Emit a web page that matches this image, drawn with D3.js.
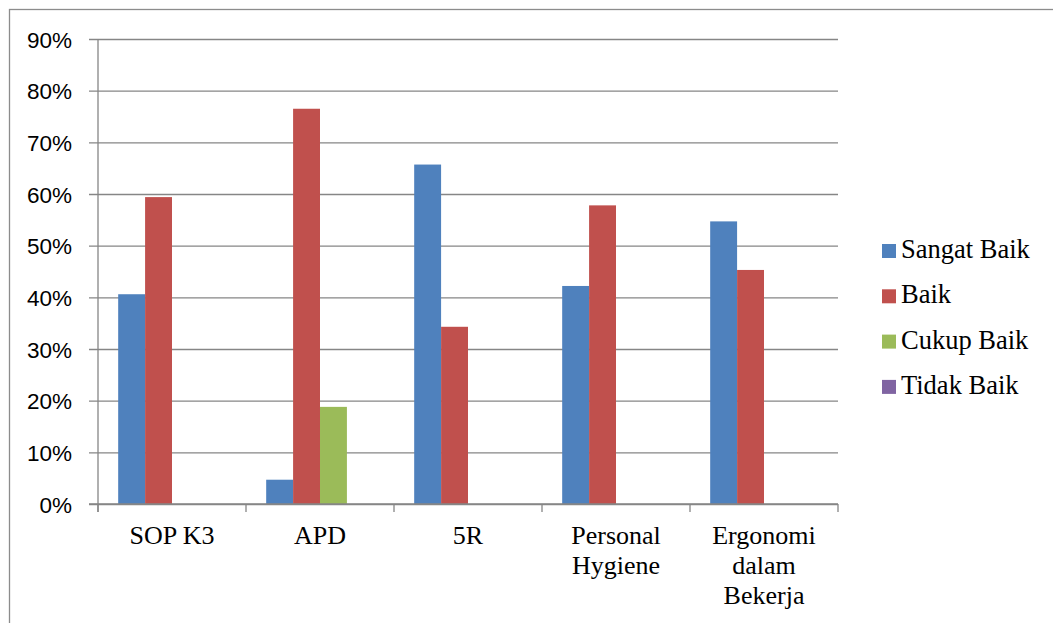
<!DOCTYPE html>
<html>
<head>
<meta charset="utf-8">
<script src="https://cdn.jsdelivr.net/npm/d3@7"></script>
<style>
  html, body { margin: 0; padding: 0; background: #fff; }
  svg { display: block; }
</style>
</head>
<body>
<svg id="chart" width="1053" height="623"></svg>
<script>
// ---- data ----
const categories = [["SOP K3"], ["APD"], ["5R"], ["Personal", "Hygiene"], ["Ergonomi", "dalam", "Bekerja"]];
const seriesNames = ["Sangat Baik", "Baik", "Cukup Baik", "Tidak Baik"];
const sangatBaik = [40.6, 4.7, 65.7, 42.2, 54.7];
const baik       = [59.4, 76.5, 34.3, 57.8, 45.3];
const cukupBaik  = [0, 18.8, 0, 0, 0];
const tidakBaik  = [0, 0, 0, 0, 0];
const yTicks = [0, 10, 20, 30, 40, 50, 60, 70, 80, 90];
const colors = ["#4F81BD", "#C0504D", "#9BBB59", "#8064A2"];

const seriesValues = [sangatBaik, baik, cukupBaik, tidakBaik];
const catKeys = categories.map(c => c.join(" "));

// ---- layout ----
const svg = d3.select("#chart");
const pLeft = 98, pRight = 838, pTop = 39, pBottom = 504;
const gridColor = "#868686";

// outer border
svg.append("rect")
  .attr("x", 9.5).attr("y", 9.5)
  .attr("width", 1100).attr("height", 700)
  .attr("fill", "none").attr("stroke", "#8c8c8c").attr("stroke-width", 1.3);

const x0 = d3.scaleBand().domain(catKeys).range([pLeft, pRight]).paddingInner(0).paddingOuter(0);
const bw = x0.bandwidth();
const gap = bw * 1.5 / 5.5;
const x1 = d3.scaleBand().domain(seriesNames).range([gap / 2, bw - gap / 2]).padding(0);
const y = d3.scaleLinear().domain([0, 90]).range([pBottom, pTop]);

// gridlines + y axis
const yAxis = d3.axisLeft(y)
  .tickValues(yTicks)
  .tickFormat(d => d + "%")
  .tickSize(-(pRight - pLeft))
  .tickSizeOuter(0)
  .tickPadding(17);
const gy = svg.append("g").attr("transform", `translate(${pLeft},0)`).call(yAxis);
gy.select(".domain").remove();
gy.selectAll(".tick line")
  .attr("x1", -9).attr("x2", pRight - pLeft)
  .attr("stroke", gridColor).attr("stroke-width", 1.3);
gy.selectAll(".tick text")
  .attr("x", -26)
  .attr("font-family", "'Liberation Sans', Arial, sans-serif")
  .attr("font-size", 22.5).attr("fill", "#000")
  .attr("dy", "0.36em");

// bars
const groups = svg.append("g").selectAll("g")
  .data(catKeys)
  .join("g")
  .attr("transform", d => `translate(${x0(d)},0)`);

groups.selectAll("rect")
  .data((d, i) => seriesNames.map((s, j) => ({ s, j, v: seriesValues[j][i] })))
  .join("rect")
  .attr("x", d => x1(d.s))
  .attr("width", x1.bandwidth())
  .attr("y", d => y(d.v))
  .attr("height", d => pBottom - y(d.v))
  .attr("fill", d => colors[d.j]);

// y axis line
svg.append("line")
  .attr("x1", pLeft).attr("x2", pLeft)
  .attr("y1", pTop).attr("y2", pBottom + 8)
  .attr("stroke", gridColor).attr("stroke-width", 1.3);

// x axis
const xAxis = d3.axisBottom(x0).tickSize(0).tickFormat(() => "");
const gx = svg.append("g").attr("transform", `translate(0,${pBottom})`).call(xAxis);
gx.select(".domain").attr("stroke", gridColor).attr("stroke-width", 1.3)
  .attr("d", `M${pLeft - 9},0H${pRight}`);

// category boundary ticks
const boundaries = catKeys.map(k => x0(k)).concat([pRight]);
svg.append("g").selectAll("line")
  .data(boundaries)
  .join("line")
  .attr("x1", d => d).attr("x2", d => d)
  .attr("y1", pBottom).attr("y2", pBottom + 8)
  .attr("stroke", gridColor).attr("stroke-width", 1.3);

// category labels
const labels = svg.append("g").selectAll("text")
  .data(categories)
  .join("text")
  .attr("x", (d, i) => x0(catKeys[i]) + bw / 2)
  .attr("y", 544)
  .attr("text-anchor", "middle")
  .attr("font-family", "'Liberation Serif', 'Times New Roman', serif")
  .attr("font-size", 26).attr("fill", "#000");
labels.selectAll("tspan")
  .data(d => d)
  .join("tspan")
  .attr("x", function () { return d3.select(this.parentNode).attr("x"); })
  .attr("dy", (d, i) => i === 0 ? 0 : 30)
  .text(d => d);

// legend
const legend = svg.append("g").selectAll("g")
  .data(seriesNames)
  .join("g")
  .attr("transform", (d, i) => `translate(882,${244 + i * 45.3})`);
legend.append("rect")
  .attr("width", 14).attr("height", 14)
  .attr("fill", (d, i) => colors[i]);
legend.append("text")
  .attr("x", 19).attr("y", 14)
  .attr("font-family", "'Liberation Serif', 'Times New Roman', serif")
  .attr("font-size", 26.5).attr("fill", "#000")
  .text(d => d);
</script>
</body>
</html>
